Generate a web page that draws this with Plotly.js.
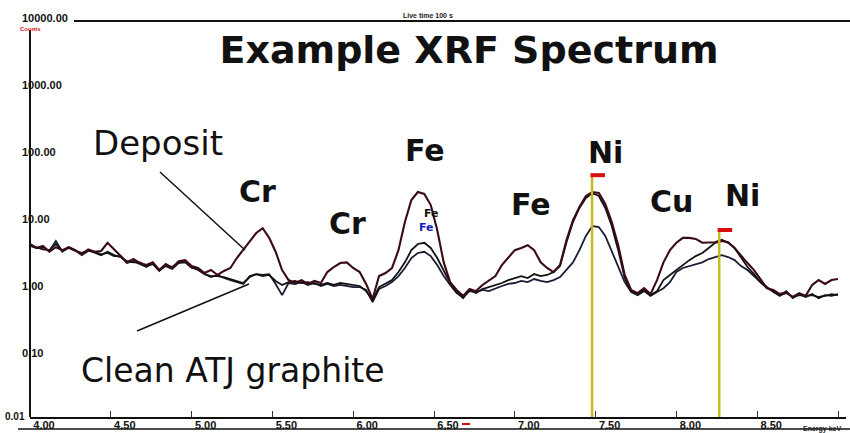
<!DOCTYPE html>
<html>
<head>
<meta charset="utf-8">
<script src="https://cdn.plot.ly/plotly-3.0.1.min.js"></script>
<style>html,body{margin:0;padding:0;background:#fff;}#chart{width:850px;height:433px;}</style>
</head>
<body>
<div id="chart"></div>
<script>
// Energy (keV)
const energy = [4.00,4.04,4.08,4.12,4.16,4.20,4.24,4.28,4.32,4.36,4.40,4.44,4.48,4.52,4.56,4.60,4.64,4.68,4.72,4.76,
4.80,4.84,4.88,4.92,4.96,5.00,5.04,5.08,5.12,5.16,5.20,5.24,5.28,5.32,5.36,5.40,5.44,5.48,5.52,5.56,
5.60,5.64,5.68,5.72,5.76,5.80,5.84,5.88,5.92,5.96,6.00,6.04,6.08,6.12,6.16,6.20,6.24,6.28,6.32,6.36,
6.40,6.44,6.48,6.52,6.56,6.60,6.64,6.68,6.72,6.76,6.80,6.84,6.88,6.92,6.96,7.00,7.04,7.08,7.12,7.16,
7.20,7.24,7.28,7.32,7.36,7.40,7.44,7.48,7.52,7.56,7.60,7.64,7.68,7.72,7.76,7.80,7.84,7.88,7.92,7.96,
8.00,8.04,8.08,8.12,8.16,8.20,8.24,8.28,8.32,8.36,8.40,8.44,8.48,8.52,8.56,8.60,8.64,8.68,8.72,8.76,
8.80,8.84,8.88,8.92,8.96,9.00];

// Counts - deposit
const deposit = [4.7,4.1,4.4,3.6,4.2,3.8,4.2,3.8,3.3,3.9,3.6,3.7,4.9,3.9,3.1,2.5,2.8,2.44,2.28,2.5,
1.92,2.36,2.06,2.6,2.7,2.2,2.06,1.73,1.92,1.62,1.86,2.06,2.9,3.9,5.2,6.85,8.1,5.8,3.6,1.92,
1.36,1.23,1.36,1.19,1.32,1.23,1.79,2.13,2.44,2.5,2.06,1.79,1.19,0.71,1.56,1.73,2.06,3.8,10.0,21.3,
28.0,26.2,17.9,7.6,2.5,1.27,0.97,0.79,1.0,0.93,1.15,1.36,1.56,2.28,2.9,3.8,4.1,4.5,3.8,2.5,
2.06,1.79,2.28,5.4,10.7,16.7,24.4,28.0,27.1,18.6,10.0,4.5,1.62,0.97,0.87,1.03,0.84,1.36,2.5,3.8,
4.9,5.8,5.8,5.6,4.9,4.9,5.0,5.4,4.9,4.1,3.1,2.44,1.92,1.41,1.03,0.97,0.84,0.90,0.76,0.87,
0.79,1.15,1.36,1.19,1.36,1.41];

// Counts - second spectrum
const sample2 = [4.5,4.2,3.9,3.8,4.7,3.7,4.1,3.7,3.45,3.8,3.45,3.2,3.6,3.2,3.0,2.6,2.5,2.5,2.2,2.36,
1.86,2.28,2.13,2.5,2.6,2.13,1.92,1.67,1.56,1.56,1.51,1.41,1.32,1.23,1.51,1.67,1.56,1.62,1.32,1.15,
1.27,1.32,1.23,1.27,1.19,1.15,1.23,1.15,1.23,1.19,1.15,1.11,0.93,0.69,1.07,1.19,1.36,1.79,2.5,3.8,
4.7,4.9,4.1,2.9,1.92,1.23,0.90,0.73,0.97,0.87,1.0,1.07,1.15,1.23,1.36,1.46,1.56,1.46,1.67,1.56,
1.62,1.79,2.2,5.0,10.0,16.2,22.8,27.1,24.4,16.2,8.7,3.8,1.46,0.93,0.84,0.97,0.81,0.93,1.36,1.62,
1.92,2.28,2.7,3.1,3.45,4.1,4.9,5.2,5.0,4.1,2.9,2.13,1.67,1.27,1.07,0.90,0.79,0.93,0.73,0.84,
0.76,0.84,0.73,0.81,0.79,0.84];

// Counts - clean ATJ graphite
const clean = [4.4,4.1,4.2,3.7,5.2,3.6,4.2,3.8,3.2,3.7,3.6,3.3,3.45,3.1,3.1,2.44,2.6,2.36,2.13,2.44,
1.92,2.2,1.99,2.44,2.5,2.06,1.99,1.67,1.51,1.62,1.46,1.36,1.27,1.19,1.56,1.67,1.62,1.67,1.19,0.81,
1.23,1.19,1.27,1.15,1.23,1.11,1.19,1.11,1.15,1.11,1.07,1.07,0.97,0.64,1.0,1.11,1.27,1.56,2.06,2.9,
3.45,3.6,3.1,2.28,1.56,1.15,0.87,0.76,0.93,0.90,0.97,0.93,1.03,1.11,1.19,1.23,1.32,1.27,1.41,1.32,
1.27,1.36,1.51,1.92,2.5,3.8,6.2,8.7,8.4,6.2,3.6,2.06,1.27,0.90,0.81,0.93,0.79,0.90,1.03,1.27,
1.79,2.06,2.2,2.36,2.5,2.8,3.0,3.2,3.0,2.7,2.2,1.92,1.56,1.27,1.03,0.93,0.81,0.87,0.76,0.81,
0.79,0.81,0.76,0.79,0.84,0.81];

// Ni line markers (keV) and marker heights (counts)
const niLines = [7.478, 8.265];
const niLineTops = [50, 7.6];
const axisFloor = 0.0123;

// Tick labels
const xTickVals = [4.0,4.5,5.0,5.5,6.0,6.5,7.0,7.5,8.0,8.5,9.0];
const xTickText = ["4.00","4.50","5.00","5.50","6.00","6.50","7.00","7.50","8.00","8.50","9.00"];
const yTickVals = [10000,1000,100,10,1,0.1,0.01];
const yTickText = ["10000.00","1000.00","100.00","10.00","1.00","0.10","0.01"];

// Peak labels
const peakLabels = ["Cr","Cr","Fe","Fe","Ni","Cu","Ni"];

const Y_MIN = -1.91, Y_MAX = 4.0;

const traces = [
  {x: energy, y: clean, type:'scatter', mode:'lines', name:'Clean ATJ graphite',
   line:{color:'#1c1c34', width:1.8}, hoverinfo:'skip'},
  {x: energy, y: sample2, type:'scatter', mode:'lines', name:'Sample 2',
   line:{color:'#121212', width:1.8}, hoverinfo:'skip'},
  {x: energy, y: deposit, type:'scatter', mode:'lines', name:'Deposit',
   line:{color:'#3a0a16', width:2.1}, hoverinfo:'skip'}
];
niLines.forEach((e, i) => {
  traces.push({x:[e, e], y:[axisFloor, niLineTops[i]], type:'scatter', mode:'lines',
    line:{color:'#c4bc1c', width:2.5}, hoverinfo:'skip', showlegend:false});
  traces.push({x:[e - 0.01, e + 0.08], y:[niLineTops[i], niLineTops[i]], type:'scatter', mode:'lines',
    line:{color:'#d81010', width:4}, hoverinfo:'skip', showlegend:false});
});

// pixel -> paper helpers for layout elements
const L = 30, T = 21, W = 816, H = 396;
const px = v => (v - L) / W;
const py = v => (T + H - v) / H;

const annotations = [];
yTickVals.forEach((v, i) => {
  const last = (i === yTickVals.length - 1);
  annotations.push({xref:'paper', yref:'paper', x:0, xshift: last ? -27 : -10,
    y:(Math.log10(v) - Y_MIN) / (Y_MAX - Y_MIN), yshift: last ? 7 : 3,
    xanchor:'left', yanchor:'middle', showarrow:false, text:yTickText[i],
    font:{family:'Liberation Sans, Arial', size: last ? 10 : 11, color:'#111', weight:'bold'}});
});
annotations.push({xref:'paper', yref:'paper', x:px(18), y:py(29), xanchor:'left', yanchor:'middle',
  showarrow:false, text:'Counts', font:{family:'Liberation Sans', size:6, color:'#d01010', weight:'bold'}});
annotations.push({xref:'paper', yref:'paper', x:px(428), y:py(15), xanchor:'center', yanchor:'middle',
  showarrow:false, text:'Live time 100 s', font:{family:'Liberation Sans', size:7, color:'#222', weight:'bold'}});
annotations.push({xref:'paper', yref:'paper', x:px(822), y:py(429), xanchor:'center', yanchor:'middle',
  showarrow:false, text:'Energy keV', font:{family:'Liberation Sans', size:7, color:'#222', weight:'bold'}});

annotations.push({xref:'paper', yref:'paper', x:px(158), y:py(143), xanchor:'center', yanchor:'middle',
  showarrow:false, text:'Deposit', font:{family:'DejaVu Sans', size:34, color:'#111'}});
annotations.push({xref:'paper', yref:'paper', x:px(233), y:py(370), xanchor:'center', yanchor:'middle',
  showarrow:false, text:'Clean ATJ graphite', font:{family:'DejaVu Sans', size:33, color:'#111'}});

const peakPos = [[257,191],[347,223],[425,150],[531,204],[605,152],[671,201],[742,195]];
peakLabels.forEach((t, i) => {
  annotations.push({xref:'paper', yref:'paper', x:px(peakPos[i][0]), y:py(peakPos[i][1]),
    xanchor:'center', yanchor:'middle', showarrow:false, text:t,
    font:{family:'DejaVu Sans', size:30, color:'#111', weight:'bold'}});
});
annotations.push({xref:'paper', yref:'paper', x:px(431), y:py(213), xanchor:'center', yanchor:'middle',
  showarrow:false, text:'Fe', font:{family:'DejaVu Sans', size:11, color:'#111', weight:'bold'}});
annotations.push({xref:'paper', yref:'paper', x:px(426), y:py(227), xanchor:'center', yanchor:'middle',
  showarrow:false, text:'Fe', font:{family:'DejaVu Sans', size:11, color:'#1020c0', weight:'bold'}});

const shapes = [
  {type:'line', xref:'paper', yref:'paper', x0:0, x1:0, y0:0, y1:py(30), line:{color:'#111', width:2}},
  {type:'line', xref:'paper', yref:'paper', x0:px(74), x1:px(852), y0:1, y1:1, line:{color:'#111', width:2}},
  {type:'line', xref:'paper', yref:'paper', x0:px(18), x1:px(852), y0:py(429), y1:py(429), line:{color:'#111', width:1.5}},
  {type:'line', xref:'paper', yref:'paper', x0:px(160), y0:py(172), x1:px(245), y1:py(250), line:{color:'#111', width:1.5}},
  {type:'line', xref:'paper', yref:'paper', x0:px(137), y0:py(331), x1:px(249), y1:py(284), line:{color:'#111', width:1.5}},
  {type:'line', xref:'paper', yref:'paper', x0:px(462), y0:py(424), x1:px(470), y1:py(424), line:{color:'#d01010', width:2}}
];

const layout = {
  width:850, height:433,
  margin:{l:L, r:4, t:T, b:16, pad:0},
  paper_bgcolor:'#ffffff', plot_bgcolor:'#ffffff',
  showlegend:false,
  title:{text:'<b>Example XRF Spectrum</b>', x:469/850, xanchor:'center', y:1-50/433, yanchor:'middle',
    font:{family:'DejaVu Sans', size:38, color:'#111'}},
  xaxis:{range:[4, 4 + W/161.6], showline:true, linecolor:'#111', linewidth:2, mirror:false,
    ticks:'inside', ticklen:6, tickwidth:1, tickcolor:'#333',
    tickmode:'array', tickvals:xTickVals, ticktext:xTickText,
    tickfont:{family:'Liberation Sans, Arial', size:11, color:'#111', weight:'bold'},
    ticklabelshift:14, ticklabelstandoff:-3,
    showgrid:false, zeroline:false, fixedrange:true},
  yaxis:{type:'log', range:[Y_MIN, Y_MAX], showline:false, showticklabels:false, ticks:'',
    showgrid:false, zeroline:false, fixedrange:true},
  annotations: annotations,
  shapes: shapes
};

Plotly.newPlot('chart', traces, layout, {displayModeBar:false, staticPlot:true});
</script>
</body>
</html>
